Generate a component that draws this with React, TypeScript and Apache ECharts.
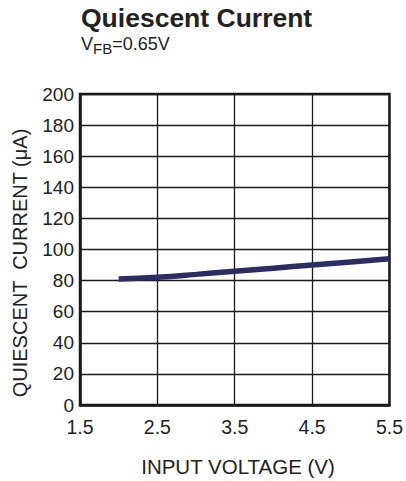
import React, { useEffect, useRef } from "react";
import * as echarts from "echarts";

const voltage = [2.0, 2.5, 3.0, 3.5, 4.0, 4.5, 5.0, 5.5];
const current = [81, 82.2, 84, 86, 88, 90, 92, 94];
const xTickLabels = ["1.5", "2.5", "3.5", "4.5", "5.5"];
const yMin = 0;
const yMax = 200;
const yStep = 20;

const FONT = "'Liberation Sans', Arial, sans-serif";

export default function App() {
  const ref = useRef<HTMLDivElement>(null);
  useEffect(() => {
    if (!ref.current) return;
    const chart = echarts.init(ref.current, null, { renderer: "svg" });
    chart.setOption({
      animation: false,
      backgroundColor: "#ffffff",
      textStyle: { fontFamily: FONT },
      grid: {
        left: 80,
        top: 94,
        right: 13,
        bottom: 76,
        show: true,
        borderColor: "#1a1a1a",
        borderWidth: 2.5,
        containLabel: false,
      },
      xAxis: [
        {
          type: "value",
          min: 1.5,
          max: 5.5,
          show: false,
        },
        {
          type: "value",
          min: 0,
          max: xTickLabels.length - 1,
          interval: 1,
          position: "bottom",
          axisLine: { show: true, lineStyle: { color: "#1a1a1a", width: 2.5 } },
          axisTick: { show: false },
          axisLabel: {
            color: "#222",
            fontSize: 19.5,
            fontFamily: FONT,
            margin: 12,
            formatter: (v: number) => xTickLabels[Math.round(v)] ?? "",
          },
          splitLine: { show: true, lineStyle: { color: "#1a1a1a", width: 1.3 } },
        },
      ],
      yAxis: {
        type: "value",
        min: yMin,
        max: yMax,
        interval: yStep,
        axisLine: { show: true, lineStyle: { color: "#1a1a1a", width: 2.5 } },
        axisTick: { show: false },
        axisLabel: { color: "#222", fontSize: 19, fontFamily: FONT, margin: 6 },
        splitLine: { show: true, lineStyle: { color: "#1a1a1a", width: 1.3 } },
      },
      graphic: [
        {
          type: "text",
          left: 81,
          top: 4,
          style: {
            text: "Quiescent Current",
            fontSize: 26.5,
            fontWeight: "bold",
            fontFamily: FONT,
            fill: "#222",
          },
        },
        {
          type: "text",
          left: 81,
          top: 35,
          style: {
            text: "{a|V}{b|FB}{a|=0.65V}",
            fontFamily: FONT,
            fill: "#222",
            rich: {
              a: { fontSize: 18, fontFamily: FONT, fill: "#222", lineHeight: 19, verticalAlign: "bottom" },
              b: { fontSize: 15, fontFamily: FONT, fill: "#222", lineHeight: 19, verticalAlign: "bottom", padding: [0, 0, -3, 0] },
            },
          },
        },
        {
          type: "text",
          x: 238,
          y: 466,
          style: {
            text: "INPUT VOLTAGE (V)",
            fontSize: 20.5,
            fontFamily: FONT,
            fill: "#222",
            align: "center",
            verticalAlign: "middle",
          },
        },
        {
          type: "text",
          x: 20,
          y: 263,
          rotation: Math.PI / 2,
          style: {
            text: "QUIESCENT  CURRENT (\u03bcA)",
            fontSize: 20,
            fontFamily: FONT,
            fill: "#222",
            align: "center",
            verticalAlign: "middle",
          },
        },
      ],
      series: [
        {
          type: "line",
          xAxisIndex: 0,
          data: voltage.map((v, i) => [v, current[i]]),
          showSymbol: false,
          smooth: true,
          lineStyle: { color: "#2b2d62", width: 5.5 },
        },
      ],
    });
    return () => chart.dispose();
  }, []);
  return (
    <div
      ref={ref}
      style={{ position: "fixed", left: 0, top: 0, width: 406, height: 481 }}
    />
  );
}
